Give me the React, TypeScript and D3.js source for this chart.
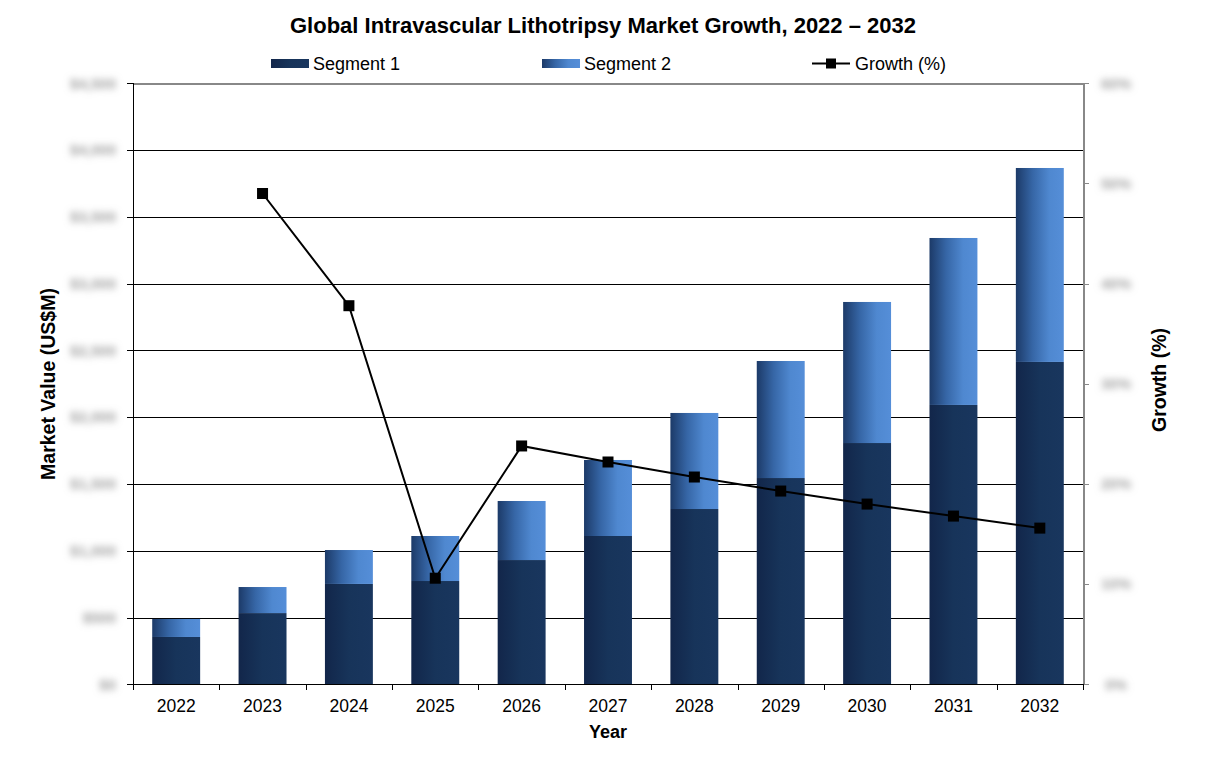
import React from "react";
import * as d3 from "d3";

const years = ["2022", "2023", "2024", "2025", "2026", "2027", "2028", "2029", "2030", "2031", "2032"];
const segment1 = [355, 534, 752, 774, 931, 1111, 1313, 1545, 1807, 2092, 2414];
const segment2 = [135, 195, 254, 337, 442, 569, 719, 876, 1056, 1250, 1452];
const growth = [null, 49.0, 37.8, 10.6, 23.8, 22.2, 20.7, 19.3, 18.0, 16.8, 15.6];
const leftTicks = [0, 500, 1000, 1500, 2000, 2500, 3000, 3500, 4000, 4500];
const rightTicks = [0, 10, 20, 30, 40, 50, 60];

const W = 1206;
const H = 778;
const M = { left: 133, right: 1083, top: 83.3, bottom: 684.4 };
const FONT = "'Liberation Sans', Arial, Helvetica, sans-serif";
const snap = (v: number) => Math.round(v) + 0.5;

export default function App() {
  const x = d3.scaleBand<string>().domain(years).range([M.left, M.right]).paddingInner(0.445).paddingOuter(0.2225);
  const band = d3.scaleBand<string>().domain(years).range([M.left, M.right]);
  const y = d3.scaleLinear().domain([0, 4500]).range([M.bottom, M.top]);
  const yr = d3.scaleLinear().domain([0, 60]).range([M.bottom, M.top]);
  const stack = d3.stack<number>().keys(["s1", "s2"]).value((i, k) => (k === "s1" ? segment1[i] : segment2[i]));
  const series = stack(years.map((_, i) => i));
  const linePts = years
    .map((yv, i) => ({ yv, g: growth[i] }))
    .filter((d) => d.g !== null) as { yv: string; g: number }[];
  const line = d3
    .line<{ yv: string; g: number }>()
    .x((d) => (x(d.yv) as number) + x.bandwidth() / 2)
    .y((d) => yr(d.g));
  const fmt = (v: number) => "$" + d3.format(",")(v);

  return (
    <svg width={W} height={H} style={{ display: "block", position: "absolute", left: 0, top: 0 }} fontFamily={FONT}>
      <defs>
        <linearGradient id="g1" x1="0" x2="1" y1="0" y2="0">
          <stop offset="0" stopColor="#12264a" />
          <stop offset="0.5" stopColor="#17345a" />
          <stop offset="1" stopColor="#19365e" />
        </linearGradient>
        <linearGradient id="g2" x1="0" x2="1" y1="0" y2="0">
          <stop offset="0" stopColor="#1c3a68" />
          <stop offset="0.35" stopColor="#3666a6" />
          <stop offset="0.7" stopColor="#4f88d0" />
          <stop offset="1" stopColor="#558ed8" />
        </linearGradient>
        <filter id="blur" filterUnits="userSpaceOnUse" x="0" y="0" width={W} height={H}>
          <feGaussianBlur stdDeviation="3.5" />
        </filter>
      </defs>
      <rect width={W} height={H} fill="#fff" />

      {/* gridlines */}
      {leftTicks.slice(1, -1).map((t) => (
        <line key={t} x1={M.left} x2={M.right} y1={snap(y(t))} y2={snap(y(t))} stroke="#000" strokeWidth={1} shapeRendering="crispEdges" />
      ))}
      <line x1={M.left} x2={M.right} y1={snap(M.top)} y2={snap(M.top)} stroke="#888" strokeWidth={2} shapeRendering="crispEdges" />

      {/* bars */}
      {series.map((s, si) =>
        s.map((d, i) => (
          <rect
            key={si + "-" + i}
            x={x(years[i])}
            width={x.bandwidth()}
            y={y(d[1])}
            height={y(d[0]) - y(d[1])}
            fill={si === 0 ? "url(#g1)" : "url(#g2)"}
          />
        ))
      )}

      {/* left axis */}
      <line x1={snap(M.left)} x2={snap(M.left)} y1={M.top} y2={M.bottom} stroke="#000" strokeWidth={1.5} shapeRendering="crispEdges" />
      <g filter="url(#blur)">
        {leftTicks.map((t) => (
          <text key={t} x={M.left - 17} y={y(t)} dy="0.35em" textAnchor="end" fontSize={15} fontWeight="bold" fill="#a0a0a0">
            {fmt(t)}
          </text>
        ))}
        {rightTicks.map((t) => (
          <text key={t} x={M.right + 33} y={yr(t)} dy="0.35em" textAnchor="middle" fontSize={15} fontWeight="bold" fill="#a0a0a0">
            {t + "%"}
          </text>
        ))}
      </g>
      {leftTicks.map((t) => (
        <line key={t} x1={M.left - 6} x2={M.left} y1={snap(y(t))} y2={snap(y(t))} stroke="#000" shapeRendering="crispEdges" />
      ))}

      {/* right axis */}
      <line x1={snap(M.right)} x2={snap(M.right)} y1={M.top} y2={M.bottom} stroke="#888" strokeWidth={2} shapeRendering="crispEdges" />
      {rightTicks.map((t) => (
        <line key={t} x1={M.right} x2={M.right + 6} y1={snap(yr(t))} y2={snap(yr(t))} stroke="#888" shapeRendering="crispEdges" />
      ))}

      {/* x axis */}
      <line x1={M.left} x2={M.right} y1={snap(M.bottom)} y2={snap(M.bottom)} stroke="#000" strokeWidth={1.5} shapeRendering="crispEdges" />
      {years.map((yv) => (
        <line key={yv} x1={snap(band(yv) as number)} x2={snap(band(yv) as number)} y1={M.bottom} y2={M.bottom + 6} stroke="#000" shapeRendering="crispEdges" />
      ))}
      <line x1={snap(M.right)} x2={snap(M.right)} y1={M.bottom} y2={M.bottom + 6} stroke="#000" shapeRendering="crispEdges" />
      {years.map((yv) => (
        <text key={yv} x={(x(yv) as number) + x.bandwidth() / 2} y={712} textAnchor="middle" fontSize={17.5} fill="#000">
          {yv}
        </text>
      ))}

      {/* growth line */}
      <path d={line(linePts) || ""} fill="none" stroke="#000" strokeWidth={2} />
      {linePts.map((d) => (
        <rect
          key={d.yv}
          x={(x(d.yv) as number) + x.bandwidth() / 2 - 5.5}
          y={yr(d.g) - 5.5}
          width={11}
          height={11}
          fill="#000"
        />
      ))}

      {/* titles */}
      <text x={603} y={33} textAnchor="middle" fontSize={22} fontWeight="bold">
        Global Intravascular Lithotripsy Market Growth, 2022 – 2032
      </text>
      <text x={608} y={738} textAnchor="middle" fontSize={18} fontWeight="bold">
        Year
      </text>
      <text transform="translate(55,384) rotate(-90)" textAnchor="middle" fontSize={19.5} fontWeight="bold">
        Market Value (US$M)
      </text>
      <text transform="translate(1166,380) rotate(-90)" textAnchor="middle" fontSize={19.5} fontWeight="bold">
        Growth (%)
      </text>

      {/* legend */}
      <rect x={271} y={59} width={38} height={9} fill="url(#g1)" />
      <text x={313} y={70} fontSize={18}>Segment 1</text>
      <rect x={542} y={59} width={38} height={9} fill="url(#g2)" />
      <text x={584} y={70} fontSize={18}>Segment 2</text>
      <line x1={812} x2={850} y1={63.5} y2={63.5} stroke="#000" strokeWidth={2} />
      <rect x={826} y={58.5} width={10} height={10} fill="#000" />
      <text x={855} y={70} fontSize={18}>Growth (%)</text>
    </svg>
  );
}
